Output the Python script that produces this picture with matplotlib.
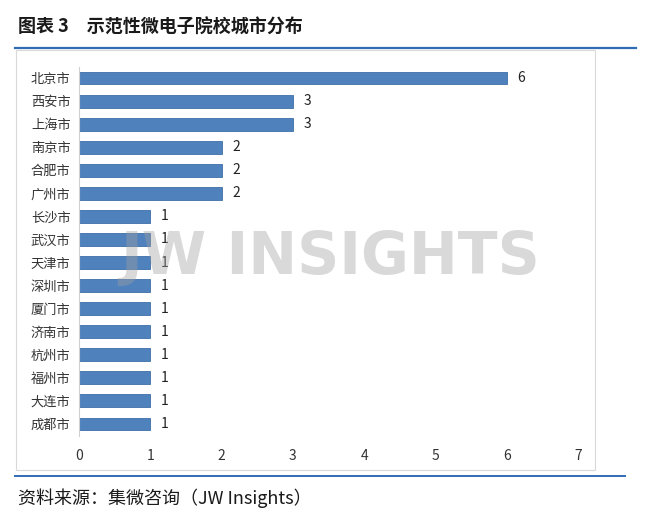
import matplotlib.pyplot as plt
from matplotlib.patches import Rectangle
from matplotlib.lines import Line2D

plt.rcParams['font.family'] = ['Noto Sans CJK SC', 'DejaVu Sans']

# 数据
cities = ["北京市", "西安市", "上海市", "南京市", "合肥市", "广州市", "长沙市", "武汉市",
          "天津市", "深圳市", "厦门市", "济南市", "杭州市", "福州市", "大连市", "成都市"]
counts = [6, 3, 3, 2, 2, 2, 1, 1, 1, 1, 1, 1, 1, 1, 1, 1]
xticks = [0, 1, 2, 3, 4, 5, 6, 7]

W, H = 660, 524
fig = plt.figure(figsize=(W / 100, H / 100), dpi=100)

def fx(px):
    return px / W

def fy(py):
    return 1 - py / H

# Titel und Rahmen
fig.text(fx(18), fy(27), "图表 3　示范性微电子院校城市分布", fontsize=13,
         fontweight='bold', va='center', ha='left', color='#1a1a1a')
fig.add_artist(Line2D([fx(15), fx(636)], [fy(48), fy(48)], color='#2E6DB4', lw=1.6))
fig.add_artist(Rectangle((fx(16), fy(470)), fx(595) - fx(16), fy(50) - fy(470),
                         fill=False, edgecolor='#d9d9d9', lw=0.8))
fig.add_artist(Line2D([fx(15), fx(625)], [fy(476), fy(476)], color='#2E6DB4', lw=1.4))
fig.text(fx(18), fy(498), "资料来源：集微咨询（JW Insights）", fontsize=13,
         style='italic', va='center', ha='left', color='#1a1a1a')

# Achsen
ax = fig.add_axes([fx(79), fy(435.5), fx(578) - fx(79), fy(66.5) - fy(435.5)])
y = list(range(len(cities)))
ax.barh(y, counts, height=0.56, color='#4F81BD', edgecolor='#3F6FA8', lw=0.6, zorder=2)
for yi, c in zip(y, counts):
    ax.text(c + 0.15, yi, str(c), va='center', ha='left', fontsize=10, color='#222222')

ax.set_ylim(len(cities) - 0.5, -0.5)
ax.set_xlim(0, 7)
ax.set_yticks(y)
ax.set_yticklabels(cities, fontsize=9.5, color='#333333')
ax.set_xticks(xticks)
ax.set_xticklabels([str(t) for t in xticks], fontsize=10, color='#333333')
ax.tick_params(axis='both', length=0)
ax.tick_params(axis='x', pad=10)
ax.tick_params(axis='y', pad=6)
for s in ['top', 'right', 'bottom']:
    ax.spines[s].set_visible(False)
ax.spines['left'].set_color('#d0d0d0')
ax.spines['left'].set_linewidth(0.8)

# Wasserzeichen
fig.text(fx(330), fy(258), "JW INSIGHTS", fontsize=42, fontweight='bold',
         family='DejaVu Sans', color='#a0a0a0', alpha=0.4, ha='center', va='center', zorder=5)

fig.savefig("out.png", dpi=100)
